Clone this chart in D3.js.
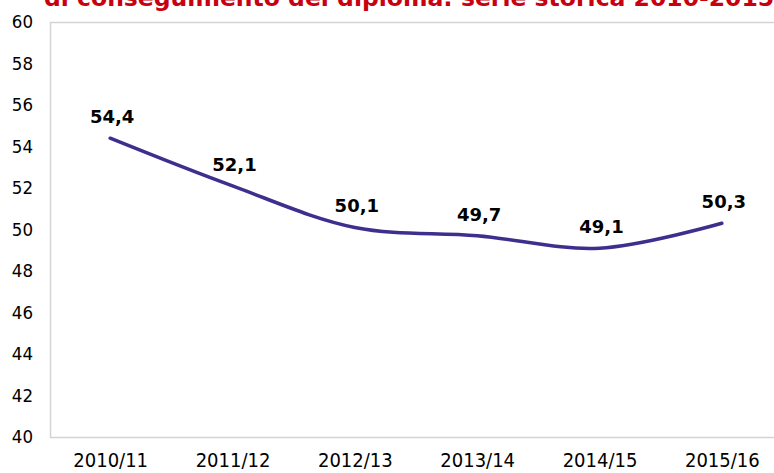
<!DOCTYPE html>
<html>
<head>
<meta charset="utf-8">
<script src="https://cdn.jsdelivr.net/npm/d3@7"></script>
<style>
  body { margin: 0; background: #fff; }
  svg { display: block; }
</style>
</head>
<body>
<svg id="chart" width="774" height="473"></svg>
<script>
let years = ["2010/11", "2011/12", "2012/13", "2013/14", "2014/15", "2015/16"]
let values = [54.4, 52.1, 50.1, 49.7, 49.1, 50.3]
let yTicks = [40, 42, 44, 46, 48, 50, 52, 54, 56, 58, 60]
let title = "di conseguimento del diploma: serie storica 2010-2015/16"

let svg = d3.select("#chart")

let x = d3.scalePoint().domain(years).range([49, 783]).padding(0.5)
let y = d3.scaleLinear().domain([40, 60]).range([437, 22])

// frame of the plot area
svg.append("rect")
    .attr("x", 50.5)
    .attr("y", y(60) + 0.5)
    .attr("width", 760)
    .attr("height", y(40) - y(60))
    .attr("fill", "none")
    .attr("stroke", "#d4d4d4")
    .attr("stroke-width", 1.5)

// title, clipped at the top like the original
svg.append("text")
    .attr("x", 44)
    .attr("y", 6)
    .attr("fill", "#c8000f")
    .style("font-family", "'DejaVu Sans'")
    .style("font-weight", "bold")
    .style("font-size", "23.5px")
    .text(title)

let axisL = d3.axisLeft(y)
    .tickValues(yTicks)
    .tickSize(0)
    .tickPadding(17)

let axisB = d3.axisBottom(x)
    .tickSize(0)
    .tickPadding(16)

let gy = svg.append("g")
    .attr("transform", "translate(50,0)")
    .call(axisL)

let gx = svg.append("g")
    .attr("transform", `translate(0,${y(40)})`)
    .call(axisB)

gy.select(".domain").remove()
gx.select(".domain").remove()

svg.selectAll(".tick text")
    .attr("fill", "#000")
    .style("font-family", "'DejaVu Sans Condensed', 'DejaVu Sans'")
    .style("font-stretch", "condensed")

gy.selectAll(".tick text").style("font-size", "18.5px")
gx.selectAll(".tick text").style("font-size", "20px")

let line = d3.line()
    .x((d, i) => x(years[i]))
    .y(d => y(d))
    .curve(d3.curveCatmullRom.alpha(0.5))

svg.append("path")
    .datum(values)
    .attr("d", line)
    .attr("fill", "none")
    .attr("stroke", "#3d2f8e")
    .attr("stroke-width", 3.5)
    .attr("stroke-linecap", "round")

svg.append("g")
    .selectAll("text")
    .data(values)
    .join("text")
    .attr("x", (d, i) => x(years[i]) + 2)
    .attr("y", d => y(d) - 15)
    .attr("text-anchor", "middle")
    .style("font-family", "'DejaVu Sans'")
    .style("font-weight", "bold")
    .style("font-size", "18px")
    .text(d => d.toFixed(1).replace(".", ","))
</script>
</body>
</html>
